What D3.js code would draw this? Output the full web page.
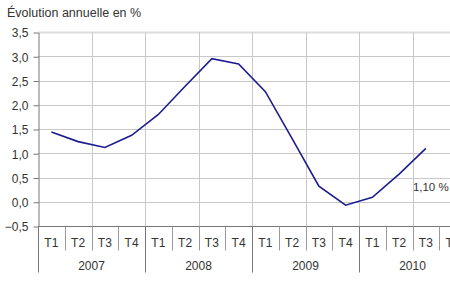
<!DOCTYPE html>
<html>
<head>
<meta charset="utf-8">
<script src="https://cdn.jsdelivr.net/npm/d3@7"></script>
<style>
  body { margin: 0; background: #fff; }
  svg { display: block; font-family: "Liberation Sans", Arial, sans-serif; }
</style>
</head>
<body>
<div id="chart"></div>
<script>
const years = ["2007", "2008", "2009", "2010"];
const quarters = ["T1", "T2", "T3", "T4"];
// annual change in %, one value per quarter (2010 T4 not published yet)
const values = [1.44, 1.24, 1.12, 1.37, 1.80, 2.38, 2.95, 2.84, 2.27, 1.30, 0.32, -0.07, 0.09, 0.57, 1.10, null];
const yTicks = [-0.5, 0, 0.5, 1, 1.5, 2, 2.5, 3, 3.5];
const lastLabel = "1,10 %";

const width = 450, height = 291;
const margin = { top: 32, left: 38, bottom: 65 };
const plotRight = 466; // the chart runs past the right edge

const svg = d3.select("#chart").append("svg")
  .attr("width", width)
  .attr("height", height);

const keys = [];
years.forEach(y => quarters.forEach(q => keys.push(y + "-" + q)));

const x = d3.scaleBand()
  .domain(keys)
  .range([margin.left, plotRight]);

const y = d3.scaleLinear()
  .domain([-0.5, 3.5])
  .range([height - margin.bottom, margin.top]);

const fmt = d => d3.format(".1f")(d).replace(".", ",");

// horizontal grid
svg.append("g")
  .selectAll("line")
  .data(yTicks.filter(d => d > -0.5))
  .enter().append("line")
  .attr("x1", margin.left).attr("x2", plotRight)
  .attr("y1", d => Math.round(y(d)) + 0.5).attr("y2", d => Math.round(y(d)) + 0.5)
  .style("stroke", d => d === 3.5 ? "#dcdcdc" : "#c8c8c8")
  .style("stroke-width", d => d === 3.5 ? 2 : 1);

// vertical grid every half-year
svg.append("g")
  .selectAll("line")
  .data(keys.filter((k, i) => i % 2 === 0 && i > 0))
  .enter().append("line")
  .attr("x1", d => Math.round(x(d)) + 0.5).attr("x2", d => Math.round(x(d)) + 0.5)
  .attr("y1", y(3.5)).attr("y2", y(-0.5))
  .style("stroke", "#c8c8c8");

// y axis
const yAxis = svg.append("g")
  .attr("transform", "translate(" + (margin.left + 0.5) + ",0.5)")
  .call(d3.axisLeft(y).tickValues(yTicks).tickFormat(fmt).tickSize(5).tickSizeOuter(0).tickPadding(5));
yAxis.select(".domain").style("stroke", "#777");
yAxis.selectAll(".tick line").style("stroke", "#777");
yAxis.selectAll("text")
  .attr("dy", "0.36em")
  .style("font-size", "12px")
  .style("fill", "#333")
  .style("font-family", "Liberation Sans, Arial, sans-serif");

// x axis baseline
const y0 = Math.round(y(-0.5)) + 0.5;
svg.append("line")
  .attr("x1", margin.left).attr("x2", plotRight)
  .attr("y1", y0).attr("y2", y0)
  .style("stroke", "#777");

// quarter dividers and labels
svg.append("g")
  .selectAll("line")
  .data(keys.filter((k, i) => i % 4 !== 0))
  .enter().append("line")
  .attr("x1", d => Math.round(x(d)) + 0.5).attr("x2", d => Math.round(x(d)) + 0.5)
  .attr("y1", y0).attr("y2", y0 + 24)
  .style("stroke", "#999");

svg.append("g")
  .selectAll("text")
  .data(keys)
  .enter().append("text")
  .attr("x", d => x(d) + x.bandwidth() / 2)
  .attr("y", y0 + 20)
  .attr("text-anchor", "middle")
  .style("font-size", "12px")
  .style("fill", "#333")
  .text(d => d.split("-")[1]);

// year dividers and labels
svg.append("g")
  .selectAll("line")
  .data(years)
  .enter().append("line")
  .attr("x1", d => Math.round(x(d + "-T1")) + 0.5).attr("x2", d => Math.round(x(d + "-T1")) + 0.5)
  .attr("y1", y0).attr("y2", y0 + 46)
  .style("stroke", "#777");

svg.append("g")
  .selectAll("text")
  .data(years)
  .enter().append("text")
  .attr("x", d => x(d + "-T1") + x.bandwidth() * 2)
  .attr("y", y0 + 43)
  .attr("text-anchor", "middle")
  .style("font-size", "12px")
  .style("fill", "#333")
  .text(d => d);

// line
const pts = keys.map((k, i) => ({ k: k, v: values[i] })).filter(d => d.v !== null);
const line = d3.line()
  .x(d => x(d.k) + x.bandwidth() / 2)
  .y(d => y(d.v));

svg.append("path")
  .datum(pts)
  .attr("d", line)
  .style("fill", "none")
  .style("stroke", "#1c1c8e")
  .style("stroke-width", 1.6);

// label for last value
const last = pts[pts.length - 1];
svg.append("text")
  .attr("x", x(last.k) + x.bandwidth() / 2 - 13)
  .attr("y", y(last.v) + 43)
  .style("font-size", "11.5px")
  .style("fill", "#333")
  .text(lastLabel);

// title
svg.append("text")
  .attr("x", 7)
  .attr("y", 17)
  .style("font-size", "12.5px")
  .style("fill", "#333")
  .text("Évolution annuelle en %");
</script>
</body>
</html>
